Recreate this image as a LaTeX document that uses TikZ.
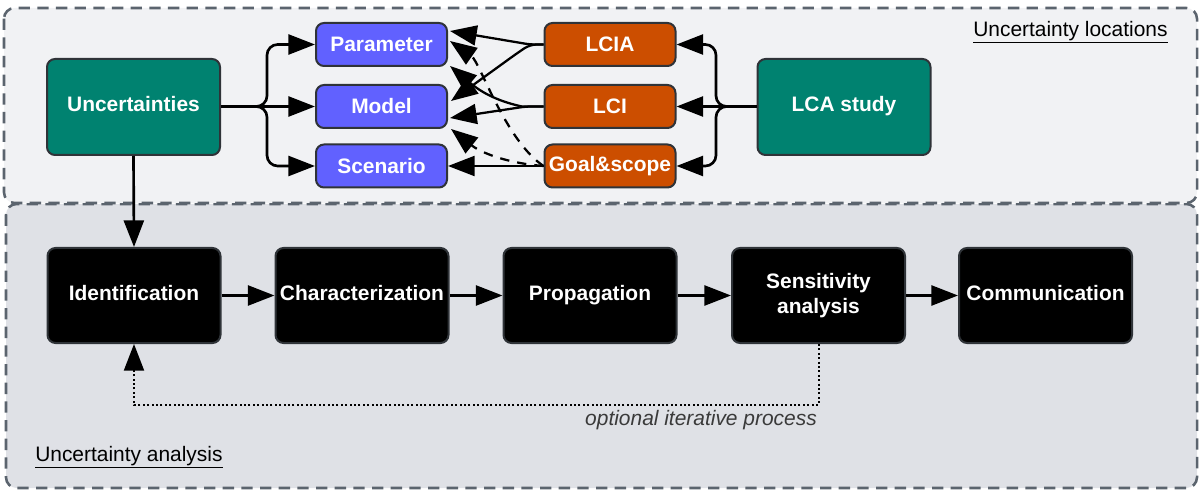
\documentclass[tikz,border=0pt]{standalone}
\usepackage{fontspec}
\setmainfont{Liberation Sans}
\usetikzlibrary{arrows.meta}
\definecolor{lcateal}{HTML}{008270}
\definecolor{bluebox}{HTML}{6161FF}
\definecolor{orangebox}{HTML}{CC4E00}
\definecolor{frametop}{HTML}{F1F2F4}
\definecolor{framebot}{HTML}{DFE1E6}
\definecolor{frameline}{HTML}{5B646E}
\definecolor{boxline}{HTML}{2F3338}
\definecolor{labelgray}{HTML}{3A3A3A}

\tikzset{
  basefont/.style={font=\fontsize{15.7}{18.8}\selectfont},
  box/.style={draw=boxline, line width=1.5pt, rounded corners=6pt, text=white,
    font=\fontsize{15.7}{18.8}\selectfont\bfseries, align=center, inner sep=0pt},
  bigbox/.style={box, minimum width=129.75pt, minimum height=72pt},
  smallbox/.style={box, minimum width=98.25pt, minimum height=32.25pt},
  procbox/.style={bigbox, fill=black, minimum height=71.25pt},
  lifted/.style={text height=11.4pt, text depth=4.5pt},
  tip/.style={-{Triangle[length=20pt,width=15pt]}},
  arr/.style={line width=2pt, tip},
  xarr/.style={line width=1.7pt, tip},
  xdash/.style={xarr, dash pattern=on 7pt off 6pt},
  frame/.style={draw=frameline, line width=1.9pt, dash pattern=on 8.5pt off 5.5pt, rounded corners=8pt},
}

\begin{document}
\begin{tikzpicture}[x=0.75pt, y=-0.75pt]
\useasboundingbox (0,0) rectangle (1201,491);

% group frames
\draw[frame, fill=framebot] (6,204) rectangle (1197,488);
\draw[frame, fill=frametop] (4,8) rectangle (1197,203);

% uncertainty locations
\node[bigbox, lifted, fill=lcateal] (unc) at (133.5,107) {Uncertainties};
\node[smallbox, fill=bluebox] (par) at (381.5,44.5) {Parameter};
\node[smallbox, fill=bluebox] (mod) at (381.5,106.5) {Model};
\node[smallbox, fill=bluebox] (sce) at (381.5,166) {Scenario};
\node[smallbox, fill=orangebox] (lcia) at (610,44.5) {LCIA};
\node[smallbox, fill=orangebox] (lci) at (610,106.5) {LCI};
\node[smallbox, fill=orangebox] (goal) at (610,166) {Goal\&scope};
\node[bigbox, lifted, fill=lcateal] (lca) at (844,107) {LCA study};

% uncertainty analysis steps
\node[procbox, lifted] (idn) at (134,295.5) {Identification};
\node[procbox, lifted] (chr) at (362,295.5) {Characterization};
\node[procbox, lifted] (prp) at (590,295.5) {Propagation};
\node[procbox] (sen) at (818.5,295.5) {Sensitivity\\analysis};
\node[procbox, lifted] (com) at (1045.5,295.5) {Communication};

% labels
\node[basefont, anchor=west, text=black, inner sep=0pt] (locs) at (973,32) {\underline{Uncertainty locations}};
\node[basefont, anchor=west, text=black, inner sep=0pt] (ana) at (35,457) {\underline{Uncertainty analysis}};
\node[basefont, text=labelgray, inner sep=0pt] (opt) at (701,420) {\itshape optional iterative process};

% branching connectors
\coordinate (bl) at (267,106.5);
\coordinate (br) at (716,106.5);
\draw[arr, rounded corners=8pt] (unc.east |- bl) -- (bl) |- (par.west);
\draw[arr] (unc.east |- bl) -- (mod.west);
\draw[arr, rounded corners=8pt] (unc.east |- bl) -- (bl) |- (sce.west);
\draw[arr, rounded corners=8pt] (lca.west |- br) -- (br) |- (lcia.east);
\draw[arr] (lca.west |- br) -- (lci.east);
\draw[arr, rounded corners=8pt] (lca.west |- br) -- (br) |- (goal.east);

% life cycle phases to uncertainty types
\coordinate (pt1) at (450,31);
\coordinate (pt2) at (450,66);
\coordinate (pt3) at (450,41);
\coordinate (mt1) at (451,101);
\coordinate (mt2) at (450,118);
\coordinate (mt3) at (451,129);
\draw[xarr, rounded corners=4pt] (lcia.west) -- (530,44.5) -- (pt1);
\draw[xarr, rounded corners=5pt] (lcia.west) -- (530,44.5) -- (516,54) -- (mt1);
\draw[xarr] (lci.west) -- (522,106.5) to[out=168, in=-40] (pt2);
\draw[xarr, rounded corners=4pt] (lci.west) -- (526,106.5) -- (mt2);
\draw[xarr] (goal.west) -- (sce.east);
\draw[xdash] (goal.west) .. controls (505,140) and (480,62) .. (pt3);
\draw[xdash] (goal.west) .. controls (505,163) and (480,152) .. (mt3);

% process chain
\draw[arr] (unc.south) -- (idn.north);
\draw[arr] (idn.east) -- (chr.west);
\draw[arr] (chr.east) -- (prp.west);
\draw[arr] (prp.east) -- (sen.west);
\draw[arr] (sen.east) -- (com.west);

% feedback loop
\coordinate (loop) at (818.5,405);
\draw[line width=1.5pt, dash pattern=on 1.5pt off 1.8pt, tip]
  (sen.south) -- (loop) -| (idn.south);
\end{tikzpicture}
\end{document}
